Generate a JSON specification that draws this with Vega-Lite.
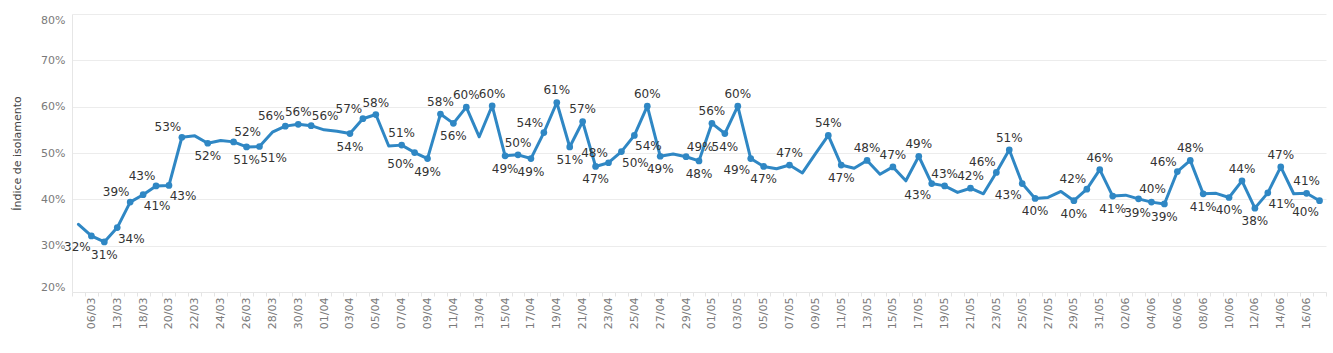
{
  "$schema": "https://vega.github.io/schema/vega-lite/v6.json",
  "width": 1254,
  "height": 278,
  "autosize": {"type": "none"},
  "padding": {"left": 72, "top": 14, "right": 7, "bottom": 61},
  "background": "white",
  "config": {"view": {"stroke": null}, "font": "DejaVu Sans"},
  "data": {"values": [
    {"d": "04/03", "v": 34.6, "label": ""},
    {"d": "06/03", "v": 32.1, "label": "32%"},
    {"d": "10/03", "v": 30.8, "label": "31%"},
    {"d": "13/03", "v": 33.9, "label": "34%"},
    {"d": "16/03", "v": 39.4, "label": "39%"},
    {"d": "18/03", "v": 41.0, "label": "41%"},
    {"d": "19/03", "v": 42.9, "label": "43%"},
    {"d": "20/03", "v": 43.0, "label": "43%"},
    {"d": "21/03", "v": 53.4, "label": "53%"},
    {"d": "22/03", "v": 53.7, "label": ""},
    {"d": "23/03", "v": 52.1, "label": "52%"},
    {"d": "24/03", "v": 52.7, "label": ""},
    {"d": "25/03", "v": 52.4, "label": "52%"},
    {"d": "26/03", "v": 51.3, "label": "51%"},
    {"d": "27/03", "v": 51.4, "label": "51%"},
    {"d": "28/03", "v": 54.5, "label": ""},
    {"d": "29/03", "v": 55.8, "label": "56%"},
    {"d": "30/03", "v": 56.2, "label": "56%"},
    {"d": "31/03", "v": 55.9, "label": "56%"},
    {"d": "01/04", "v": 55.0, "label": ""},
    {"d": "02/04", "v": 54.7, "label": ""},
    {"d": "03/04", "v": 54.2, "label": "54%"},
    {"d": "04/04", "v": 57.4, "label": "57%"},
    {"d": "05/04", "v": 58.3, "label": "58%"},
    {"d": "06/04", "v": 51.5, "label": ""},
    {"d": "07/04", "v": 51.7, "label": "51%"},
    {"d": "08/04", "v": 50.1, "label": "50%"},
    {"d": "09/04", "v": 48.8, "label": "49%"},
    {"d": "10/04", "v": 58.4, "label": "58%"},
    {"d": "11/04", "v": 56.4, "label": "56%"},
    {"d": "12/04", "v": 59.9, "label": "60%"},
    {"d": "13/04", "v": 53.5, "label": ""},
    {"d": "14/04", "v": 60.2, "label": "60%"},
    {"d": "15/04", "v": 49.4, "label": "49%"},
    {"d": "16/04", "v": 49.6, "label": "50%"},
    {"d": "17/04", "v": 48.8, "label": "49%"},
    {"d": "18/04", "v": 54.4, "label": "54%"},
    {"d": "19/04", "v": 60.9, "label": "61%"},
    {"d": "20/04", "v": 51.3, "label": "51%"},
    {"d": "21/04", "v": 56.8, "label": "57%"},
    {"d": "22/04", "v": 47.1, "label": "47%"},
    {"d": "23/04", "v": 47.9, "label": "48%"},
    {"d": "24/04", "v": 50.3, "label": "50%"},
    {"d": "25/04", "v": 53.8, "label": "54%"},
    {"d": "26/04", "v": 60.1, "label": "60%"},
    {"d": "27/04", "v": 49.3, "label": "49%"},
    {"d": "28/04", "v": 49.8, "label": ""},
    {"d": "29/04", "v": 49.2, "label": "49%"},
    {"d": "30/04", "v": 48.3, "label": "48%"},
    {"d": "01/05", "v": 56.4, "label": "56%"},
    {"d": "02/05", "v": 54.2, "label": "54%"},
    {"d": "03/05", "v": 60.1, "label": "60%"},
    {"d": "04/05", "v": 48.8, "label": "49%"},
    {"d": "05/05", "v": 47.1, "label": "47%"},
    {"d": "06/05", "v": 46.6, "label": ""},
    {"d": "07/05", "v": 47.4, "label": "47%"},
    {"d": "08/05", "v": 45.7, "label": ""},
    {"d": "09/05", "v": 49.8, "label": ""},
    {"d": "10/05", "v": 53.8, "label": "54%"},
    {"d": "11/05", "v": 47.4, "label": "47%"},
    {"d": "12/05", "v": 46.7, "label": ""},
    {"d": "13/05", "v": 48.4, "label": "48%"},
    {"d": "14/05", "v": 45.4, "label": ""},
    {"d": "15/05", "v": 47.0, "label": "47%"},
    {"d": "16/05", "v": 44.0, "label": ""},
    {"d": "17/05", "v": 49.3, "label": "49%"},
    {"d": "18/05", "v": 43.4, "label": "43%"},
    {"d": "19/05", "v": 42.9, "label": "43%"},
    {"d": "20/05", "v": 41.5, "label": ""},
    {"d": "21/05", "v": 42.4, "label": "42%"},
    {"d": "22/05", "v": 41.2, "label": ""},
    {"d": "23/05", "v": 45.8, "label": "46%"},
    {"d": "24/05", "v": 50.7, "label": "51%"},
    {"d": "25/05", "v": 43.4, "label": "43%"},
    {"d": "26/05", "v": 40.2, "label": "40%"},
    {"d": "27/05", "v": 40.4, "label": ""},
    {"d": "28/05", "v": 41.7, "label": ""},
    {"d": "29/05", "v": 39.7, "label": "40%"},
    {"d": "30/05", "v": 42.2, "label": "42%"},
    {"d": "31/05", "v": 46.4, "label": "46%"},
    {"d": "01/06", "v": 40.7, "label": "41%"},
    {"d": "02/06", "v": 40.9, "label": ""},
    {"d": "03/06", "v": 40.1, "label": "40%"},
    {"d": "04/06", "v": 39.4, "label": "39%"},
    {"d": "05/06", "v": 39.0, "label": "39%"},
    {"d": "06/06", "v": 46.0, "label": "46%"},
    {"d": "07/06", "v": 48.4, "label": "48%"},
    {"d": "08/06", "v": 41.2, "label": "41%"},
    {"d": "09/06", "v": 41.3, "label": ""},
    {"d": "10/06", "v": 40.4, "label": "40%"},
    {"d": "11/06", "v": 44.0, "label": "44%"},
    {"d": "12/06", "v": 38.1, "label": "38%"},
    {"d": "13/06", "v": 41.4, "label": "41%"},
    {"d": "14/06", "v": 47.0, "label": "47%"},
    {"d": "15/06", "v": 41.2, "label": ""},
    {"d": "16/06", "v": 41.3, "label": "41%"},
    {"d": "17/06", "v": 39.7, "label": "40%"}
  ]},
  "transform": [
    {"window": [
      {"op": "lag", "field": "v", "as": "prev"},
      {"op": "lead", "field": "v", "as": "next"},
      {"op": "lead", "field": "label", "as": "ln"},
      {"op": "lag", "field": "label", "as": "lp"}
    ]},
    {"calculate": "datum.prev == null ? 2 * datum.v - datum.next - 1 : datum.prev", "as": "p"},
    {"calculate": "datum.next == null ? 2 * datum.v - datum.prev + 1 : datum.next", "as": "n"},
    {"calculate": "datum.v - (datum.p + datum.n) / 2", "as": "diff"},
    {"calculate": "datum.p < datum.v && datum.v < datum.n", "as": "rise"},
    {"calculate": "datum.p > datum.v && datum.v > datum.n", "as": "fall"},
    {"calculate": "datum.diff > -0.1", "as": "up0"},
    {"calculate": "datum.lp != null && datum.lp != ''", "as": "plab"},
    {"window": [
      {"op": "lag", "field": "up0", "as": "pup"},
      {"op": "lag", "field": "rise", "as": "prise"}
    ]},
    {"calculate": "datum.up0 || (datum.rise && datum.diff > -0.9 && !(datum.plab && datum.prise && datum.pup))", "as": "up1"},
    {"window": [{"op": "lag", "field": "up1", "as": "pup1"}]},
    {"calculate": "datum.up0 || (datum.rise && datum.diff > -0.9 && !(datum.plab && datum.prise && datum.pup1))", "as": "up"},
    {"calculate": "datum.rise ? (datum.up ? -1 : 1) : (datum.fall ? (datum.up ? ((datum.v - datum.n > 1.2 && datum.ln == '') ? 0 : 1) : ((datum.v - datum.n < 0.8 && datum.ln == '') ? 0 : -1)) : 0)", "as": "h"}
  ],
  "encoding": {
    "x": {
      "field": "d", "type": "ordinal", "sort": null,
      "scale": {"type": "band", "paddingInner": 0, "paddingOuter": 0},
      "axis": {
        "title": null, "labelAngle": -90, "labelFontSize": 11, "labelColor": "#7a7a7a",
        "labelExpr": "round(datum.index * 96) % 2 == 1 ? datum.label : ''",
        "tickBand": "extent", "tickSize": 4, "tickColor": "#e4e4e4", "labelPadding": 1,
        "domainColor": "#e6e6e6", "grid": false
      }
    },
    "y": {
      "field": "v", "type": "quantitative",
      "scale": {"domain": [20, 80], "nice": false, "zero": false},
      "axis": {
        "title": "Índice de isolamento", "titleFontSize": 11, "titleFontWeight": "normal", "titleColor": "#444",
        "titlePadding": 18, "values": [20, 30, 40, 50, 60, 70, 80],
        "labelExpr": "datum.value + '%'", "labelFontSize": 11, "labelColor": "#7a7a7a", "labelPadding": 7,
        "labelFlush": true, "ticks": false, "domainColor": "#e6e6e6", "gridColor": "#ececec"
      }
    }
  },
  "layer": [
    {"mark": {"type": "line", "color": "#2f87c4", "strokeWidth": 3, "strokeJoin": "round", "strokeCap": "round"}},
    {"transform": [{"filter": "datum.label != ''"}],
     "mark": {"type": "point", "filled": true, "opacity": 1, "color": "#2f87c4", "size": 45}},
    {"transform": [{"filter": "datum.label != '' && datum.up && datum.h == 0"}],
     "mark": {"type": "text", "dy": -12, "fontSize": 12, "color": "#333", "baseline": "middle"},
     "encoding": {"text": {"field": "label"}}},
    {"transform": [{"filter": "datum.label != '' && datum.up && datum.h == -1"}],
     "mark": {"type": "text", "dx": -14, "dy": -10, "fontSize": 12, "color": "#333", "baseline": "middle"},
     "encoding": {"text": {"field": "label"}}},
    {"transform": [{"filter": "datum.label != '' && datum.up && datum.h == 1"}],
     "mark": {"type": "text", "dx": 14, "dy": -10, "fontSize": 12, "color": "#333", "baseline": "middle"},
     "encoding": {"text": {"field": "label"}}},
    {"transform": [{"filter": "datum.label != '' && !datum.up && datum.h == 0"}],
     "mark": {"type": "text", "dy": 13, "fontSize": 12, "color": "#333", "baseline": "middle"},
     "encoding": {"text": {"field": "label"}}},
    {"transform": [{"filter": "datum.label != '' && !datum.up && datum.h == -1"}],
     "mark": {"type": "text", "dx": -14, "dy": 11, "fontSize": 12, "color": "#333", "baseline": "middle"},
     "encoding": {"text": {"field": "label"}}},
    {"transform": [{"filter": "datum.label != '' && !datum.up && datum.h == 1"}],
     "mark": {"type": "text", "dx": 14, "dy": 11, "fontSize": 12, "color": "#333", "baseline": "middle"},
     "encoding": {"text": {"field": "label"}}}
  ]
}
